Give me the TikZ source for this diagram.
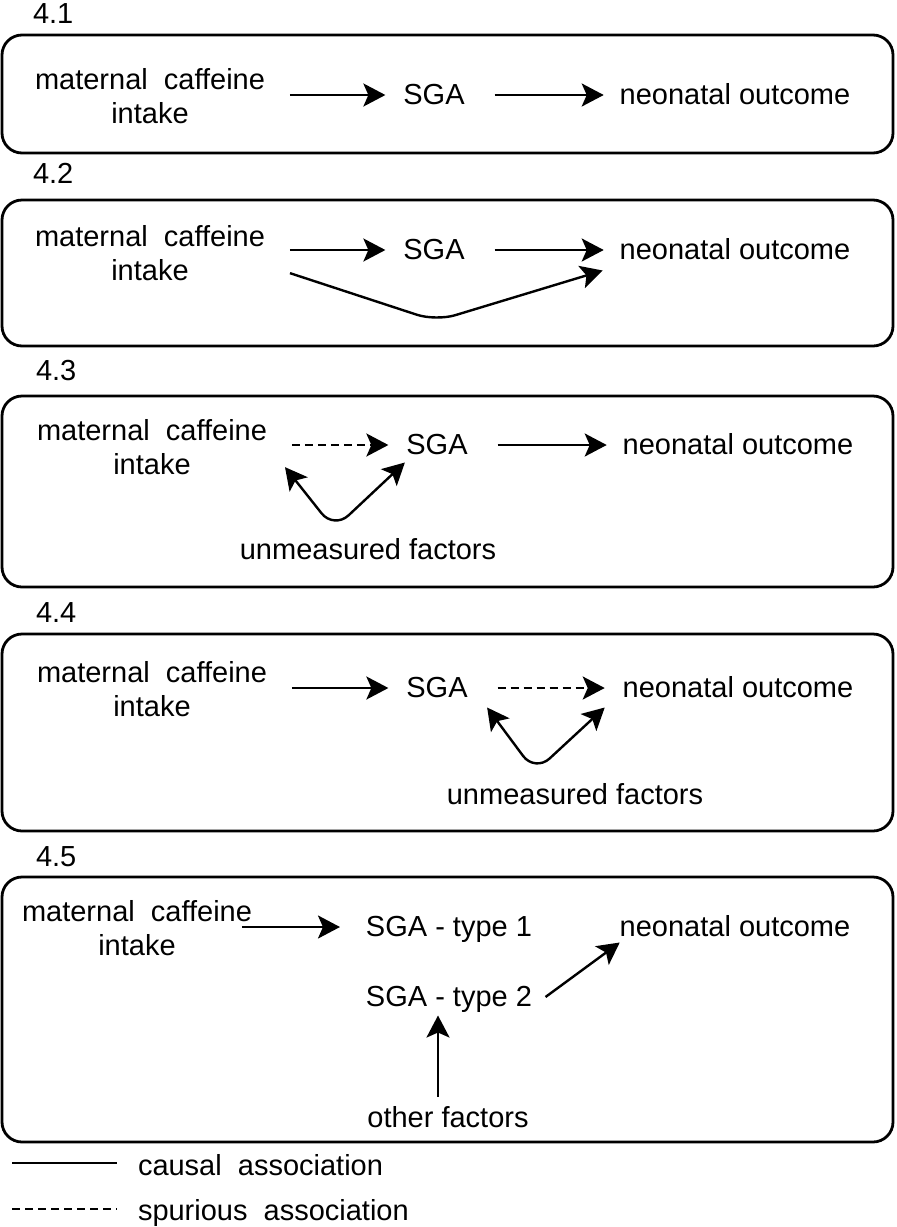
\documentclass[tikz,border=0pt]{standalone}
\usepackage{fontspec}
\setmainfont{Liberation Sans}
\usetikzlibrary{arrows.meta,positioning}

\tikzset{
  lbl/.style={inner sep=0pt, outer sep=0pt},
  txt/.style={lbl, text height=0.95em, text depth=0.05em},
  twoline/.style={lbl, align=center},
  panel/.style={line width=1.4pt, rounded corners=10pt},
  causal/.style={line width=1.2pt, -{Stealth[length=11pt,width=11.5pt,inset=2.5pt]}},
  spurious/.style={causal, dash pattern=on 4pt off 2.5pt},
  twoway/.style={line width=1.2pt, {Stealth[length=11pt,width=11.5pt,inset=2.5pt]}-{Stealth[length=11pt,width=11.5pt,inset=2.5pt]}},
}

\begin{document}
\begin{tikzpicture}[x=0.5pt, y=-0.5pt, font=\fontsize{14.5pt}{17pt}\selectfont]
\useasboundingbox (0,0) rectangle (897,1227);
%draw panel frames and numbers
\foreach \lab/\lx/\ly/\top/\bot [count=\i] in {4.1/33/14/35/153, 4.2/33/174/200/346, 4.3/36/371/396/587, 4.4/36/613/634/831, 4.5/36/857/877/1142}{
   \draw[panel] (2,\top) rectangle (893,\bot);
   \node[txt, anchor=west] (num\i) at (\lx,\ly) {\lab};
}
% 4.1
\node[twoline] (mci1) at (150,96) {maternal~~caffeine\\intake};
\node[txt] (sga1) at (434,95) {SGA};
\node[txt] (no1) at (735,95) {neonatal outcome};
\draw[causal, shorten <=12.5pt, shorten >=9pt] (mci1.east |- sga1) -- (sga1);
\draw[causal, shorten <=15pt, shorten >=8pt] (sga1) -- (no1);
% 4.2
\node[twoline] (mci2) at (150,253) {maternal~~caffeine\\intake};
\node[txt] (sga2) at (434,250) {SGA};
\node[txt] (no2) at (735,250) {neonatal outcome};
\draw[causal, shorten <=12.5pt, shorten >=9pt] (mci2.east |- sga2) -- (sga2);
\draw[causal, shorten <=15pt, shorten >=8pt] (sga2) -- (no2);
\coordinate (v2) at (436,321);
\draw[causal, rounded corners=10pt] ([xshift=12.5pt,yshift=3.75pt]mci2.south east) -- (v2) -- ([xshift=-8.5pt,yshift=-5.25pt]no2.south west);
% 4.3
\node[twoline] (mci3) at (152,447) {maternal~~caffeine\\intake};
\node[txt] (sga3) at (437,445) {SGA};
\node[txt] (no3) at (738,445) {neonatal outcome};
\node[txt] (uf3) at (368,550) {unmeasured factors};
\draw[spurious, shorten <=12.5pt, shorten >=9pt] (mci3.east |- sga3) -- (sga3);
\draw[causal, shorten <=15pt, shorten >=8pt] (sga3) -- (no3);
\coordinate (v3) at (334,529);
\draw[twoway, rounded corners=10pt] ([xshift=9pt,yshift=3.75pt]mci3.south east) -- (v3) -- ([xshift=-0.75pt,yshift=-3.75pt]sga3.south west);
% 4.4
\node[twoline] (mci4) at (152,689) {maternal~~caffeine\\intake};
\node[txt] (sga4) at (437,688) {SGA};
\node[txt] (no4) at (738,688) {neonatal outcome};
\node[txt] (uf4) at (575,795) {unmeasured factors};
\draw[causal, shorten <=12.5pt, shorten >=9pt] (mci4.east |- sga4) -- (sga4);
\draw[spurious, shorten <=15pt, shorten >=9pt] (sga4) -- (no4);
\coordinate (v4) at (535,772);
\draw[twoway, rounded corners=10pt] ([xshift=9.75pt,yshift=-4.75pt]sga4.south east) -- (v4) -- ([xshift=-9pt,yshift=-4.75pt]no4.south west);
% 4.5
\node[twoline] (mci5) at (137,928) {maternal~~caffeine\\intake};
\node[txt] (sgaa) at (449,927) {SGA - type 1};
\node[txt] (sgab) at (449,997) {SGA - type 2};
\node[txt] (no5) at (735,927) {neonatal outcome};
\node[txt] (of5) at (448,1118) {other factors};
\draw[causal, shorten <=-5pt, shorten >=13pt] (mci5.east |- sgaa) -- (sgaa);
\draw[causal] ([xshift=6.75pt]sgab.east) -- ([yshift=-2.75pt]no5.south west);
\draw[causal] ([xshift=-5pt,yshift=5.75pt]of5.north) -- ([xshift=-5.5pt,yshift=-4.25pt]sgab.south);
% legend
\coordinate (ca) at (12,1163);
\coordinate (cb) at (117,1163);
\coordinate (sa) at (12,1209);
\coordinate (sb) at (117,1209);
\draw[line width=0.9pt] (ca) -- (cb);
\draw[line width=0.9pt, dash pattern=on 4pt off 2.5pt] (sa) -- (sb);
\node[txt, anchor=west] (lgc) at (138,1166) {causal~~association};
\node[txt, anchor=west] (lgs) at (138,1211) {spurious~~association};
\end{tikzpicture}
\end{document}
